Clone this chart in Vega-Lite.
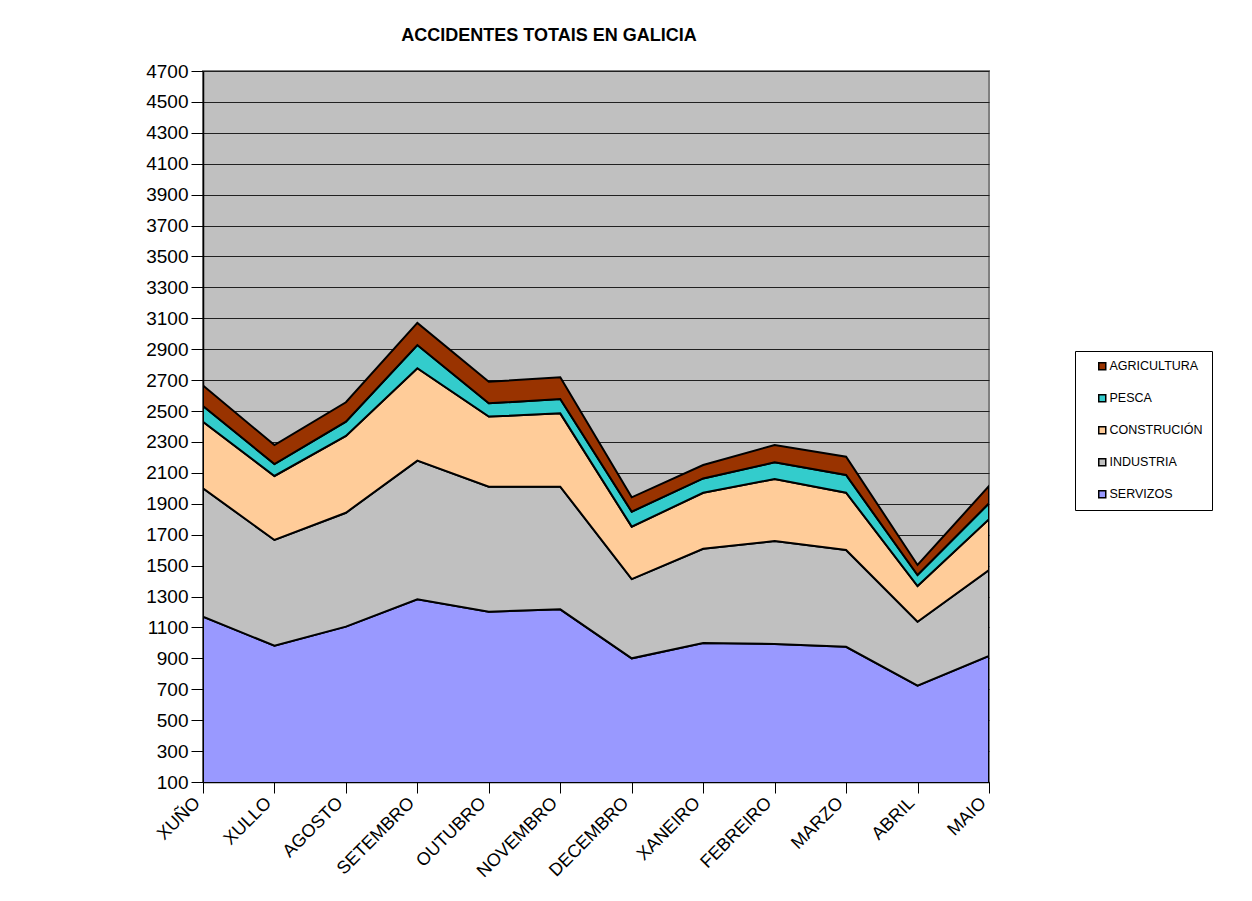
{
  "$schema": "https://vega.github.io/schema/vega-lite/v6.json",
  "width": 786,
  "height": 711,
  "autosize": {"type": "none"},
  "padding": {"left": 203, "top": 71, "right": 263, "bottom": 119},
  "background": "white",
  "config": {
    "font": "Liberation Sans",
    "view": {"fill": "#C0C0C0", "stroke": "#808080", "strokeWidth": 2}
  },
  "title": {
    "text": "ACCIDENTES TOTAIS EN GALICIA",
    "fontSize": 18,
    "fontWeight": "bold",
    "color": "black",
    "anchor": "middle",
    "dx": -47,
    "offset": 3,
    "baseline": "alphabetic"
  },
  "data": {
    "values": [
      {"mes": "XUÑO", "sector": "SERVIZOS", "n": 1169},
      {"mes": "XUÑO", "sector": "INDUSTRIA", "n": 831},
      {"mes": "XUÑO", "sector": "CONSTRUCIÓN", "n": 431},
      {"mes": "XUÑO", "sector": "PESCA", "n": 102},
      {"mes": "XUÑO", "sector": "AGRICULTURA", "n": 132},
      {"mes": "XULLO", "sector": "SERVIZOS", "n": 982},
      {"mes": "XULLO", "sector": "INDUSTRIA", "n": 684},
      {"mes": "XULLO", "sector": "CONSTRUCIÓN", "n": 414},
      {"mes": "XULLO", "sector": "PESCA", "n": 77},
      {"mes": "XULLO", "sector": "AGRICULTURA", "n": 123},
      {"mes": "AGOSTO", "sector": "SERVIZOS", "n": 1105},
      {"mes": "AGOSTO", "sector": "INDUSTRIA", "n": 737},
      {"mes": "AGOSTO", "sector": "CONSTRUCIÓN", "n": 497},
      {"mes": "AGOSTO", "sector": "PESCA", "n": 92},
      {"mes": "AGOSTO", "sector": "AGRICULTURA", "n": 126},
      {"mes": "SETEMBRO", "sector": "SERVIZOS", "n": 1282},
      {"mes": "SETEMBRO", "sector": "INDUSTRIA", "n": 897},
      {"mes": "SETEMBRO", "sector": "CONSTRUCIÓN", "n": 598},
      {"mes": "SETEMBRO", "sector": "PESCA", "n": 150},
      {"mes": "SETEMBRO", "sector": "AGRICULTURA", "n": 143},
      {"mes": "OUTUBRO", "sector": "SERVIZOS", "n": 1202},
      {"mes": "OUTUBRO", "sector": "INDUSTRIA", "n": 809},
      {"mes": "OUTUBRO", "sector": "CONSTRUCIÓN", "n": 453},
      {"mes": "OUTUBRO", "sector": "PESCA", "n": 86},
      {"mes": "OUTUBRO", "sector": "AGRICULTURA", "n": 140},
      {"mes": "NOVEMBRO", "sector": "SERVIZOS", "n": 1217},
      {"mes": "NOVEMBRO", "sector": "INDUSTRIA", "n": 794},
      {"mes": "NOVEMBRO", "sector": "CONSTRUCIÓN", "n": 474},
      {"mes": "NOVEMBRO", "sector": "PESCA", "n": 93},
      {"mes": "NOVEMBRO", "sector": "AGRICULTURA", "n": 140},
      {"mes": "DECEMBRO", "sector": "SERVIZOS", "n": 900},
      {"mes": "DECEMBRO", "sector": "INDUSTRIA", "n": 513},
      {"mes": "DECEMBRO", "sector": "CONSTRUCIÓN", "n": 339},
      {"mes": "DECEMBRO", "sector": "PESCA", "n": 97},
      {"mes": "DECEMBRO", "sector": "AGRICULTURA", "n": 93},
      {"mes": "XANEIRO", "sector": "SERVIZOS", "n": 999},
      {"mes": "XANEIRO", "sector": "INDUSTRIA", "n": 610},
      {"mes": "XANEIRO", "sector": "CONSTRUCIÓN", "n": 362},
      {"mes": "XANEIRO", "sector": "PESCA", "n": 93},
      {"mes": "XANEIRO", "sector": "AGRICULTURA", "n": 87},
      {"mes": "FEBREIRO", "sector": "SERVIZOS", "n": 993},
      {"mes": "FEBREIRO", "sector": "INDUSTRIA", "n": 666},
      {"mes": "FEBREIRO", "sector": "CONSTRUCIÓN", "n": 401},
      {"mes": "FEBREIRO", "sector": "PESCA", "n": 108},
      {"mes": "FEBREIRO", "sector": "AGRICULTURA", "n": 112},
      {"mes": "MARZO", "sector": "SERVIZOS", "n": 975},
      {"mes": "MARZO", "sector": "INDUSTRIA", "n": 626},
      {"mes": "MARZO", "sector": "CONSTRUCIÓN", "n": 371},
      {"mes": "MARZO", "sector": "PESCA", "n": 114},
      {"mes": "MARZO", "sector": "AGRICULTURA", "n": 119},
      {"mes": "ABRIL", "sector": "SERVIZOS", "n": 723},
      {"mes": "ABRIL", "sector": "INDUSTRIA", "n": 414},
      {"mes": "ABRIL", "sector": "CONSTRUCIÓN", "n": 231},
      {"mes": "ABRIL", "sector": "PESCA", "n": 71},
      {"mes": "ABRIL", "sector": "AGRICULTURA", "n": 65},
      {"mes": "MAIO", "sector": "SERVIZOS", "n": 915},
      {"mes": "MAIO", "sector": "INDUSTRIA", "n": 557},
      {"mes": "MAIO", "sector": "CONSTRUCIÓN", "n": 328},
      {"mes": "MAIO", "sector": "PESCA", "n": 103},
      {"mes": "MAIO", "sector": "AGRICULTURA", "n": 112}
    ]
  },
  "transform": [
    {"calculate": "indexof(['SERVIZOS', 'INDUSTRIA', 'CONSTRUCIÓN', 'PESCA', 'AGRICULTURA'], datum.sector)", "as": "orde"}
  ],
  "mark": {"type": "area", "clip": true, "stroke": "black", "strokeWidth": 2, "strokeJoin": "miter", "opacity": 1, "fillOpacity": 1},
  "encoding": {
    "x": {
      "field": "mes",
      "type": "ordinal",
      "sort": null,
      "scale": {"type": "point", "padding": 0, "domain": ["XUÑO", "XULLO", "AGOSTO", "SETEMBRO", "OUTUBRO", "NOVEMBRO", "DECEMBRO", "XANEIRO", "FEBREIRO", "MARZO", "ABRIL", "MAIO"]},
      "axis": {
        "title": null,
        "labelAngle": -45,
        "labelAlign": "right",
        "labelBaseline": "middle",
        "labelFontSize": 18,
        "labelColor": "black",
        "labelPadding": 7,
        "labelOffset": -6,
        "tickSize": 11,
        "tickColor": "black",
        "domainColor": "black",
        "domainWidth": 1.5,
        "grid": false,
        "labelOverlap": false
      }
    },
    "y": {
      "field": "n",
      "type": "quantitative",
      "stack": "zero",
      "scale": {"domain": [100, 4700], "nice": false, "zero": false},
      "axis": {
        "title": null,
        "format": "d",
        "values": [100, 300, 500, 700, 900, 1100, 1300, 1500, 1700, 1900, 2100, 2300, 2500, 2700, 2900, 3100, 3300, 3500, 3700, 3900, 4100, 4300, 4500, 4700],
        "labelFontSize": 19,
        "labelColor": "black",
        "labelPadding": 3,
        "tickSize": 12,
        "tickColor": "black",
        "domainColor": "black",
        "domainWidth": 1.5,
        "grid": true,
        "gridColor": "#202020",
        "gridOpacity": 1,
        "gridWidth": 1,
        "labelOverlap": false
      }
    },
    "order": {"field": "orde", "type": "quantitative", "sort": "ascending"},
    "color": {
      "field": "sector",
      "type": "nominal",
      "scale": {
        "domain": ["AGRICULTURA", "PESCA", "CONSTRUCIÓN", "INDUSTRIA", "SERVIZOS"],
        "range": ["#993300", "#33CCCC", "#FFCC99", "#C0C0C0", "#9999FF"]
      },
      "legend": {
        "title": null,
        "orient": "none",
        "legendX": 872,
        "legendY": 280,
        "direction": "vertical",
        "fillColor": "white",
        "strokeColor": "black",
        "padding": 9,
        "symbolType": "square",
        "symbolSize": 49,
        "symbolStrokeColor": "black",
        "symbolStrokeWidth": 1.5,
        "symbolOpacity": 1,
        "symbolOffset": 12,
        "labelFontSize": 12.5,
        "labelColor": "black",
        "labelOffset": 1,
        "rowPadding": 18
      }
    }
  }
}
